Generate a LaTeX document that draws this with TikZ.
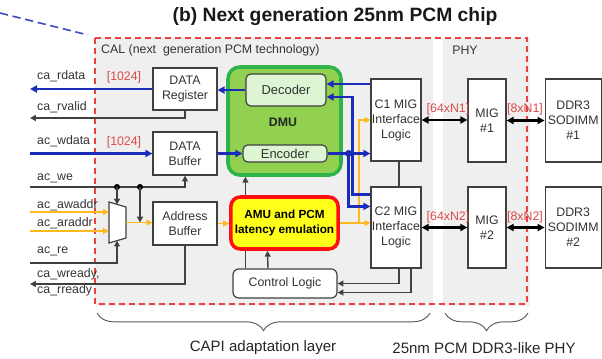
\documentclass[tikz,border=0pt]{standalone}
\usepackage{fontspec}
\setmainfont{Liberation Sans}
\usepackage{xcolor}
\usepackage{tikz}
\usetikzlibrary{arrows.meta, positioning, decorations.pathreplacing}
\definecolor{busblue}{HTML}{1B2DB8}
\definecolor{addrorange}{HTML}{FFB91E}
\definecolor{wire}{HTML}{404040}
\definecolor{calred}{HTML}{EE4040}
\definecolor{tagred}{HTML}{D94A4A}
\definecolor{dmugreen}{HTML}{2EB34A}
\definecolor{dmufill}{HTML}{92D050}
\definecolor{codfill}{HTML}{DDF5D2}
\definecolor{amuyellow}{HTML}{FFFF1A}
\definecolor{amured}{HTML}{FF1010}
\definecolor{bggray}{HTML}{EFEFEF}
\newdimen\px \px=0.85pt
\tikzset{
  txt/.style={font=\fontsize{10.5}{12.75}\selectfont},
  box/.style={rectangle, draw=wire, fill=white, text=black!80, line width=1pt, align=center, inner sep=0pt, txt},
  coder/.style={box, fill=codfill, rounded corners=4pt, font=\fontsize{11}{13}\selectfont},
  dmubox/.style={rectangle, draw=dmugreen, fill=dmufill, line width=3pt, rounded corners=10pt},
  amubox/.style={rectangle, draw=amured, fill=amuyellow, line width=3pt, rounded corners=8pt, align=center, font=\fontsize{10}{12.5}\selectfont\bfseries},
  ctrlbox/.style={box, rounded corners=5pt},
  sig/.style={anchor=west, inner sep=0pt, text=black!80, align=left, font=\fontsize{10.5}{13.6}\selectfont},
  tag/.style={inner sep=0pt, text=tagred, txt},
  lbl/.style={inner sep=0pt, text=black!80, txt},
  layercap/.style={inner sep=0pt, text=black!85, font=\fontsize{12.8}{15}\selectfont},
  headline/.style={inner sep=0pt, text=black!90, font=\fontsize{16.4}{19}\selectfont\bfseries},
  bus/.style={-{Triangle[length=6pt,width=6pt]}, line width=2.5pt, busblue},
  ctl/.style={-{Triangle[length=5pt,width=5pt]}, line width=1.2pt, wire},
  plain/.style={line width=1.2pt, wire},
  adr/.style={-{Triangle[length=5pt,width=5pt]}, line width=1.1pt, addrorange},
  link/.style={{Triangle[length=6pt,width=6pt]}-{Triangle[length=6pt,width=6pt]}, line width=2.2pt, black},
  calline/.style={calred, line width=1.2pt, dash pattern=on 5pt off 3.5pt},
  hint/.style={busblue!85!white, line width=1.4pt, dash pattern=on 7pt off 4pt},
  brace/.style={decorate, decoration={brace, mirror, amplitude=15pt}, line width=0.8pt, black!65},
}
\begin{document}
\begin{tikzpicture}[x=0.85pt, y=-0.85pt]
  \useasboundingbox (0,0) rectangle (602,358);
  \fill[bggray] (95,38) rectangle (433,306);
  \fill[bggray] (443,38) rectangle (530,306);
  \draw[calline] (95,38) rectangle (527,304);
  \coordinate (farA) at (0,13);
  \coordinate (farB) at (88,35);
  \draw[hint] (farA) -- (farB);

  \node[headline] (head) at (335,17) {(b) Next generation 25nm PCM chip};
  \node[lbl, anchor=west] (cal) at (101,50) {CAL (next\ \ generation PCM technology)};
  \node[lbl] (phy) at (465,50) {PHY};

  \node[box, minimum width=64\px, minimum height=42\px] (dreg) at (185,89) {DATA\\Register};
  \node[box, minimum width=64\px, minimum height=43\px] (dbuf) at (185,153.5) {DATA\\Buffer};
  \node[box, minimum width=64\px, minimum height=43\px] (abuf) at (185,223.5) {Address\\Buffer};
  \node[dmubox, minimum width=113\px, minimum height=108\px] (dmu) at (284.5,121) {};
  \node[coder, minimum width=80\px, minimum height=32\px] (dec) at (286,90) {Decoder};
  \node[coder, minimum width=84\px, minimum height=17\px] (enc) at (285,153.5) {Encoder};
  \node[font=\fontsize{10.5}{12}\selectfont\bfseries, text=black!85] (dmulbl) at (283,122) {DMU};
  \node[amubox, minimum width=105\px, minimum height=52\px] (amu) at (284.5,223) {AMU and PCM\\latency emulation};
  \node[ctrlbox, minimum width=104\px, minimum height=29\px] (ctrl) at (285,283.5) {Control Logic};
  \node[box, minimum width=50\px, minimum height=82\px] (c1) at (396,120) {C1 MIG\\Interface\\Logic};
  \node[box, minimum width=50\px, minimum height=81\px] (c2) at (396,227.5) {C2 MIG\\Interface\\Logic};
  \node[box, minimum width=38\px, minimum height=83\px] (mig1) at (487,120.5) {MIG\\\#1};
  \node[box, minimum width=38\px, minimum height=81\px] (mig2) at (487,227.5) {MIG\\\#2};
  \node[box, minimum width=56\px, minimum height=83\px, right=38\px of mig1] (ddr1) {DDR3\\SODIMM\\\#1};
  \node[box, minimum width=56\px, minimum height=81\px, right=38\px of mig2] (ddr2) {DDR3\\SODIMM\\\#2};

  \draw[fill=white, draw=wire, line width=1pt] (109,202) -- (126,207) -- (126,238) -- (109,243) -- cycle;
  \coordinate (muxIn1) at (109,212);
  \coordinate (muxIn2) at (109,231);
  \coordinate (muxOut) at (126,222.5);
  \coordinate (muxTop) at (117,204.5);
  \coordinate (muxBot) at (117,240.6);

  \coordinate (rdataE) at (30,89);
  \coordinate (rvalidE) at (30,118);
  \coordinate (wdataE) at (30,153.5);
  \coordinate (weE) at (30,187);
  \coordinate (awE) at (30,212);
  \coordinate (arE) at (30,231);
  \coordinate (reE) at (30,263);
  \coordinate (rdyE) at (30,284);
  \coordinate (weA) at (117,187);
  \coordinate (weB) at (140,187);
  \node[sig] (s-rdata) at (37,76) {ca\_rdata};
  \node[sig] (s-rvalid) at (37,107) {ca\_rvalid};
  \node[sig] (s-wdata) at (37,141) {ac\_wdata};
  \node[sig] (s-we) at (37,178) {ac\_we};
  \node[sig] (s-aw) at (37,205) {ac\_awaddr};
  \node[sig] (s-ar) at (37,223) {ac\_araddr};
  \node[sig] (s-re) at (37,251) {ac\_re};
  \node[sig] (s-rdy) at (37,282) {ca\_wready,\\ca\_rready};

  \draw[bus] (dec.west) -- (dec.west -| dreg.east);
  \draw[bus] (dreg.west) -- (rdataE);
  \draw[ctl] (dreg.south) |- (rvalidE);
  \draw[bus] (wdataE) -- (dbuf.west);
  \draw[bus] (dbuf.east) -- (enc.west);
  \draw[ctl] (weE) -| (dbuf.south);
  \fill[black] (weA) circle (2.6pt);
  \fill[black] (weB) circle (2.6pt);
  \draw[ctl] (weA) -- (muxTop);
  \draw[ctl] (weB) -- (weB |- muxOut);
  \draw[adr] (awE) -- (muxIn1);
  \draw[adr] (arE) -- (muxIn2);
  \draw[adr] (muxOut) -- (muxOut -| abuf.west);
  \draw[ctl] (reE) -| (muxBot);
  \draw[ctl] (abuf.south) |- (rdyE);
  \draw[adr] (abuf.east) -- (abuf.east -| amu.west);

  \coordinate (amuTap) at (359,223);
  \draw[adr] (amu.east) -- (amu.east -| c2.west);
  \draw[adr] (amuTap) |- (c1.west);
  \draw[ctl] (amu.north -| dec.west) -- (dmu.south -| dec.west);
  \draw[plain] (ctrl.north -| dec.west) -- (amu.south -| dec.west);
  \draw[ctl] ([xshift=-17\px]ctrl.north) -- ([xshift=-17\px]amu.south);
  \draw[ctl] ([xshift=3\px]c2.south) |- (ctrl.east);
  \draw[ctl] ([xshift=15\px]c2.south) |- ([yshift=-9\px]ctrl.east);
  \draw[plain] ([xshift=3\px]c1.south) -- ([xshift=3\px]c2.north);

  \coordinate (decIn1) at ([yshift=6\px]dec.east);
  \coordinate (decIn2) at ([yshift=-7\px]dec.east);
  \coordinate (encTap) at ([xshift=21\px]enc.east);
  \draw[bus] (decIn1 -| c1.west) -- (decIn1);
  \draw[bus] ([yshift=-8\px]c2.north west) -- ++(-18,0) |- (decIn2);
  \draw[bus] (enc.east) -- (enc.east -| c1.west);
  \draw[bus] (encTap) |- ([yshift=-20\px]c2.north west);
  \fill[busblue] (encTap) circle (3pt);

  \draw[link] (c1.east) -- (c1.east -| mig1.west);
  \draw[link] (mig1.east) -- (ddr1.west);
  \draw[link] (c2.east) -- (c2.east -| mig2.west);
  \draw[link] (mig2.east) -- (ddr2.west);

  \node[tag] (w-rd) at (124,77) {[1024]};
  \node[tag] (w-wr) at (124,142) {[1024]};
  \node[tag] (w-c1) at (448,109) {[64xN1]};
  \node[tag] (w-m1) at (525,109) {[8xN1]};
  \node[tag] (w-c2) at (448,217) {[64xN2]};
  \node[tag] (w-m2) at (525,217) {[8xN2]};

  \coordinate (calL) at (97,313);
  \coordinate (calR) at (430,313);
  \coordinate (phyL) at (445,313);
  \coordinate (phyR) at (528,313);
  \draw[brace] (calL) -- (calR);
  \draw[brace] (phyL) -- (phyR);
  \node[layercap] (capi) at (263,348) {CAPI adaptation layer};
  \node[layercap] (phycap) at (484,348) {25nm PCM DDR3-like PHY};
\end{tikzpicture}
\end{document}
